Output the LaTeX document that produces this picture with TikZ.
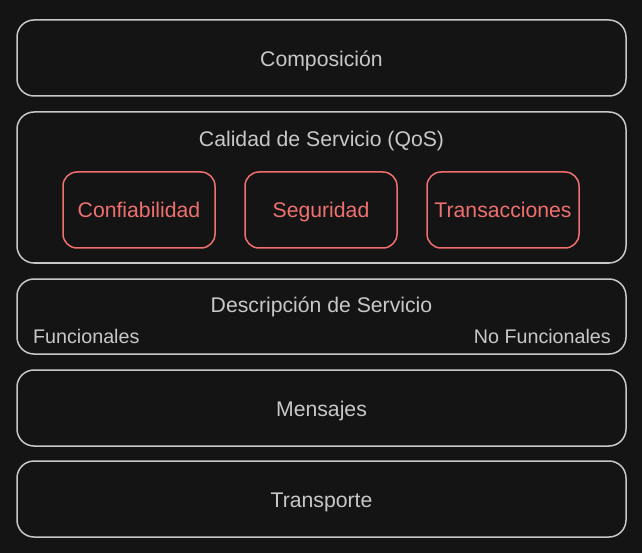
\documentclass[tikz,border=0pt]{standalone}
\usepackage{fontspec}
\setmainfont{Liberation Sans}
\definecolor{bgc}{HTML}{141414}
\definecolor{linec}{HTML}{C8C8C8}
\definecolor{textc}{HTML}{C8C8C8}
\definecolor{redc}{HTML}{F07070}
\begin{document}
\begin{tikzpicture}[x=1pt,y=-1pt,
  layer/.style={draw=linec,line width=1.5pt,rounded corners=17pt},
  lbl/.style={text height=15.2pt,text depth=0pt,inner sep=0pt,text=textc,font=\fontsize{21.2}{24}\selectfont},
  small/.style={text height=14.1pt,text depth=0pt,inner sep=0pt,text=textc,font=\fontsize{19.7}{22}\selectfont},
  qbox/.style={draw=redc,line width=1.5pt,rounded corners=14pt,minimum width=152pt,minimum height=76pt,inner sep=0pt},
  qlbl/.style={lbl,text=redc}]
\fill[bgc] (0,0) rectangle (642,553);
\useasboundingbox (0,0) rectangle (642,553);
\draw[layer] (17,20) rectangle (626,96);
\node[lbl] (comp) at (321.5,59) {Composición};
\draw[layer] (17,112) rectangle (626,263);
\node[lbl] (qos) at (321.5,139) {Calidad de Servicio (QoS)};
\node[qbox] (conf) at (139,210) {};
\node[qbox] (seg) at (321,210) {};
\node[qbox] (trans) at (503,210) {};
\node[qlbl] (confl) at (conf.center) {Confiabilidad};
\node[qlbl] (segl) at (seg.center) {Seguridad};
\node[qlbl] (transl) at (trans.center) {Transacciones};
\draw[layer] (17,279) rectangle (626,354);
\node[lbl] (desc) at (321.5,305) {Descripción de Servicio};
\node[small,anchor=west] (func) at (33,336) {Funcionales};
\node[small,anchor=east] (nofunc) at (611,336) {No Funcionales};
\draw[layer] (17,370) rectangle (626,446);
\node[lbl] (mens) at (321.5,408.5) {Mensajes};
\draw[layer] (17,461) rectangle (626,537);
\node[lbl] (trp) at (321.5,499.5) {Transporte};
\end{tikzpicture}
\end{document}
